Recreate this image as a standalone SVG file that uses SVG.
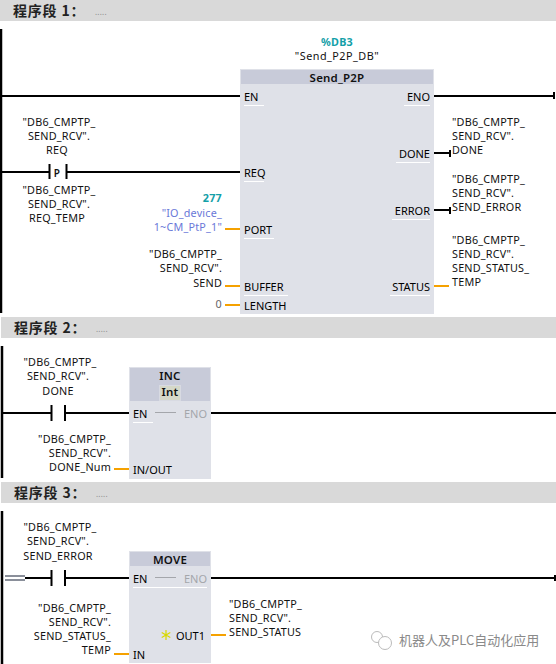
<svg xmlns="http://www.w3.org/2000/svg" width="556" height="664" viewBox="0 0 556 664">
<style>
text{font-family:"Noto Sans","Liberation Sans",sans-serif;font-size:10.8px;letter-spacing:.2px;fill:#111}
.h{font-family:"Noto Sans CJK SC",sans-serif;font-size:14px;font-weight:700;fill:#222;letter-spacing:.8px}
.dots{font-size:8px;fill:#888}
.m{text-anchor:middle}.e{text-anchor:end}
.p{font-size:11px;fill:#000;letter-spacing:0}
.t{font-weight:600;font-size:11.500px}
.g{fill:#a4a6ab}
.b{fill:#dfe1e8}.hd{fill:#c8cbd9}.bar{fill:#d9d9d9}
.w{stroke:#000;stroke-width:2.500;fill:none}
.o{stroke:#f5a100;stroke-width:2;fill:none}
.c{stroke:#000;stroke-width:2;fill:none}
.u{stroke:#fff;stroke-width:1;fill:none}
</style>
<g id="network1-header"><rect class="bar" x="0" y="0" width="556" height="21"/><text class="h" x="13" y="16.300">程序段 1：</text><text class="dots" x="95" y="15">.....</text></g>
<g id="network2-header"><rect class="bar" x="1" y="317" width="555" height="21"/><text class="h" x="14" y="332.500">程序段 2：</text><text class="dots" x="96" y="332">.....</text></g>
<g id="network3-header"><rect class="bar" x="1" y="482" width="555" height="21"/><text class="h" x="14" y="497.500">程序段 3：</text><text class="dots" x="96" y="497">.....</text></g>
<g id="send-block">
<rect x="240" y="69" width="194" height="245" class="b"/><rect x="241" y="70" width="192" height="14" class="hd"/>
<text class="t m" x="337" y="82">Send_P2P</text>
<text class="m" x="337" y="46" style="fill:#14a0a8;font-weight:700">%DB3</text><text class="m" x="337" y="60" style="letter-spacing:.5px">"Send_P2P_DB"</text>
<text class="p" x="244" y="101">EN</text><text class="p" x="244" y="177">REQ</text><text class="p" x="244" y="234">PORT</text><text class="p" x="244" y="291">BUFFER</text><text class="p" x="244" y="310">LENGTH</text>
<text class="p e" x="430" y="101">ENO</text><text class="p e" x="430" y="158">DONE</text><text class="p e" x="430" y="215">ERROR</text><text class="p e" x="430" y="291">STATUS</text>
<path class="u" d="M244 105.500h20M244 181.500h20M244 238.500h30M244 295.500h44M404 105.500h26M396 162.500h34M392 219.500h38M390 295.500h40"/>
</g>
<g id="inc-block">
<rect x="129" y="367" width="82" height="112" class="b"/><rect x="130" y="368" width="80" height="33" class="hd"/>
<rect x="159.500" y="385.500" width="21" height="15" fill="#d5d8c8" stroke="#d8dae2"/>
<text class="t m" x="170" y="380">INC</text><text class="t m" x="170" y="396">Int</text>
<text class="p" x="133" y="418">EN</text><text class="p g e" x="207" y="418">ENO</text><text class="p" x="133" y="474">IN/OUT</text>
<path d="M155 412.500h21" stroke="#a4a6ab" fill="none"/><path class="u" d="M133 422.500h20"/>
</g>
<g id="move-block">
<rect x="129" y="551" width="82" height="112" class="b"/><rect x="130" y="552" width="80" height="14" class="hd"/>
<text class="t m" x="170" y="564">MOVE</text>
<text class="p" x="133" y="583">EN</text><text class="p g e" x="207" y="583">ENO</text><text class="p e" x="205" y="640">OUT1</text><text class="p" x="133" y="659">IN</text>
<path d="M155 577.500h21" stroke="#a4a6ab" fill="none"/><path class="u" d="M133 587.500h74"/>
<path d="M166 630v10M161.700 632.500l8.600 5M161.700 637.500l8.600-5" stroke="#d8d800" stroke-width="1.200" fill="none"/>
</g>
<g id="connectors">
<path class="w" d="M1 29V313M2 346V478M2 511V664"/>
<path class="c" d="M2 96H240M434 96H554M554 92V99M2 172H49M67 172H240M434 153H450M450 150V157M434 210H450M450 207V214"/>
<path class="c" d="M49.500 164V179M66.500 164V179"/>
<path class="c" d="M2 413H51M65 413H129M211 413H556M51.500 405V421M65 405V421"/>
<path class="c" d="M25 578H51M65 578H129M211 578H556M51.500 570V586M65 570V586M555 575V581"/>
<path d="M5 576H25M5 580H25" stroke="#8a8f9a" stroke-width="2" fill="none"/>
<path class="o" d="M225 229H240M225 286H240M225 305H240M434 286H449M114 469H129M114 654H129M211 635H226"/>
</g>
<g id="labels">
<text class="m" x="59" y="126">"DB6_CMPTP_</text><text class="m" x="59" y="140">SEND_RCV".</text><text class="m" x="57" y="154">REQ</text>
<text class="t m" x="57" y="177" style="font-size:10px">P</text>
<text class="m" x="59" y="194">"DB6_CMPTP_</text><text class="m" x="59" y="208">SEND_RCV".</text><text class="m" x="57" y="222">REQ_TEMP</text>
<text class="e" x="222" y="202" style="fill:#14a0a8;font-weight:700">277</text>
<text class="e" x="222" y="217" style="fill:#6a78d8">"IO_device_</text><text class="e" x="222" y="231" style="fill:#6a78d8">1~CM_PtP_1"</text>
<text class="e" x="222" y="258">"DB6_CMPTP_</text><text class="e" x="222" y="272">SEND_RCV".</text><text class="e" x="222" y="287">SEND</text>
<text class="e" x="222" y="308" style="fill:#666">0</text>
<text x="452" y="126">"DB6_CMPTP_</text><text x="452" y="140">SEND_RCV".</text><text x="452" y="154">DONE</text>
<text x="452" y="183">"DB6_CMPTP_</text><text x="452" y="197">SEND_RCV".</text><text x="452" y="211">SEND_ERROR</text>
<text x="452" y="244">"DB6_CMPTP_</text><text x="452" y="258">SEND_RCV".</text><text x="452" y="272">SEND_STATUS_</text><text x="452" y="286">TEMP</text>
<text class="m" x="60" y="366">"DB6_CMPTP_</text><text class="m" x="58" y="380">SEND_RCV".</text><text class="m" x="58" y="395">DONE</text>
<text class="e" x="111" y="443">"DB6_CMPTP_</text><text class="e" x="111" y="457">SEND_RCV".</text><text class="e" x="111" y="471">DONE_Num</text>
<text class="m" x="60" y="531">"DB6_CMPTP_</text><text class="m" x="58" y="545">SEND_RCV".</text><text class="m" x="58" y="560">SEND_ERROR</text>
<text class="e" x="111" y="612">"DB6_CMPTP_</text><text class="e" x="111" y="626">SEND_RCV".</text><text class="e" x="111" y="640">SEND_STATUS_</text><text class="e" x="111" y="654">TEMP</text>
<text x="229" y="608">"DB6_CMPTP_</text><text x="229" y="622">SEND_RCV".</text><text x="229" y="636">SEND_STATUS</text>
</g>
<g id="watermark">
<circle cx="377" cy="637" r="5.500" fill="#fff" stroke="#bbb"/><circle cx="385" cy="643" r="6.500" fill="#fff" stroke="#bbb"/>
<text x="399" y="645" style="font-family:'Noto Sans CJK SC',sans-serif;font-size:13px;letter-spacing:0;fill:#8a8a8a">机器人及PLC自动化应用</text>
</g>
</svg>
